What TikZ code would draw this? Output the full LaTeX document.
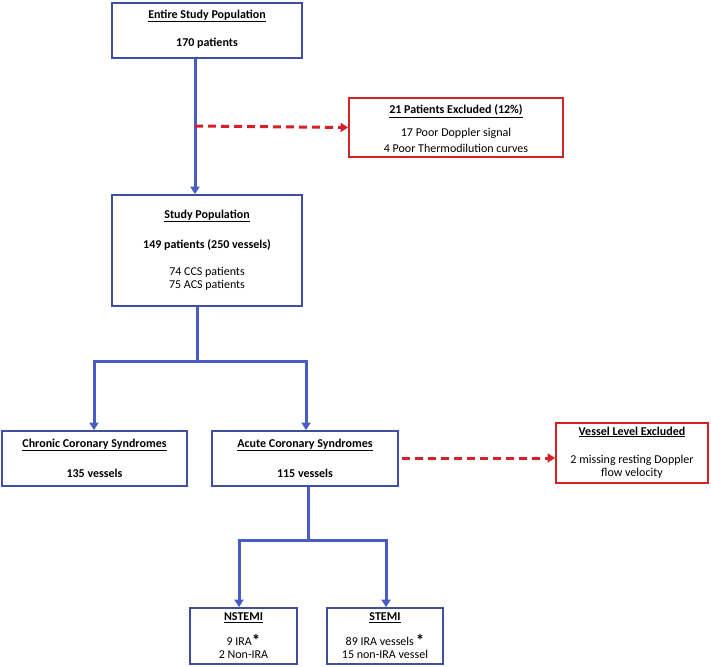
\documentclass[tikz,border=0pt]{standalone}
\usepackage{fontspec}
\setmainfont{Carlito}
\usetikzlibrary{arrows.meta,calc}
\definecolor{boxblue}{RGB}{64,80,160}
\definecolor{lineblue}{RGB}{72,92,196}
\definecolor{exred}{RGB}{212,32,40}
\tikzset{
  bluebox/.style={draw=boxblue, line width=1.8pt, fill=white, inner sep=0pt},
  redbox/.style={draw=exred, line width=1.8pt, fill=white, inner sep=0pt},
  txt/.style={font=\fontsize{12}{13}\selectfont, inner sep=0pt, align=center},
  ttl/.style={txt, font=\fontsize{12}{13}\selectfont\bfseries},
  blueline/.style={draw=lineblue, line width=3pt},
  bluearrow/.style={blueline, -{Triangle[length=7.5pt,width=9pt]}},
  redarrow/.style={draw=exred, line width=3pt, dash pattern=on 8pt off 5pt, -{Triangle[length=7.5pt,width=9pt]}}
}
\newcommand{\myast}{\raisebox{-1pt}{\bfseries\fontsize{17}{17}\selectfont *}}
\begin{document}
\begin{tikzpicture}[x=1pt,y=-1pt]
\useasboundingbox (0,0) rectangle (711,666);
% boxes
\node[bluebox, minimum width=190pt, minimum height=55pt] (esp) at (207,30.5) {};
\node[redbox, minimum width=214pt, minimum height=59pt] (excl) at (456,127.5) {};
\node[bluebox, minimum width=190pt, minimum height=111pt] (sp) at (207,250.5) {};
\node[bluebox, minimum width=185pt, minimum height=55pt] (ccs) at (94.5,458.5) {};
\node[bluebox, minimum width=186pt, minimum height=55pt] (acs) at (305,458.5) {};
\node[redbox, minimum width=152pt, minimum height=60pt] (vle) at (632,453) {};
\node[bluebox, minimum width=107pt, minimum height=56pt] (nst) at (243.5,636) {};
\node[bluebox, minimum width=116pt, minimum height=56pt] (st) at (385,636) {};
% texts
\node[ttl] (t1) at (207,16) {\underline{Entire Study Population}};
\node[ttl] (t2) at (207,43) {170 patients};
\node[ttl] (t3) at (456,111) {\underline{21 Patients Excluded (12\%)}};
\node[txt] (t4) at (456,133) {17 Poor Doppler signal};
\node[txt] (t5) at (456,148) {4 Poor Thermodilution curves};
\node[ttl] (t6) at (207,216) {\underline{Study Population}};
\node[ttl] (t7) at (207,245) {149 patients (250 vessels)};
\node[txt] (t8) at (207,278.5) {74 CCS patients\\75 ACS patients};
\node[ttl] (t9) at (94.5,445) {\underline{Chronic Coronary Syndromes}};
\node[ttl] (t10) at (94.5,473) {135 vessels};
\node[ttl] (t11) at (305,445) {\underline{Acute Coronary Syndromes}};
\node[ttl] (t12) at (305,473) {115 vessels};
\node[ttl] (t13) at (632,432) {\underline{Vessel Level Excluded}};
\node[txt] (t14) at (632,466.5) {2 missing resting Doppler\\flow velocity};
\node[ttl] (t15) at (243.5,618) {\underline{NSTEMI}};
\node[txt, anchor=base] (t16) at (243.5,645.5) {9 IRA\myast};
\node[txt, anchor=base] (t16b) at (243.5,658.5) {2 Non-IRA};
\node[ttl] (t17) at (385,618) {\underline{STEMI}};
\node[txt, anchor=base] (t18) at (385,645.5) {89 IRA vessels\,\myast};
\node[txt, anchor=base] (t18b) at (385,658.5) {15 non-IRA vessel};
% junction coordinates
\coordinate (a1) at (195,126);
\coordinate (j1) at (197,361);
\coordinate (j1l) at (94,361);
\coordinate (j1r) at (306,361);
\coordinate (j2) at (308,540);
\coordinate (j2l) at (239,540);
\coordinate (j2r) at (386,540);
\coordinate (r2) at (402,458);
% connectors
\draw[bluearrow] (esp.south -| a1) -- (sp.north -| a1);
\draw[redarrow] (a1) -- (excl.west);
\draw[blueline] (sp.south -| j1) -- (j1);
\draw[blueline, line cap=rect] (j1l) -- (j1r);
\draw[bluearrow] (j1l) -- (ccs.north -| j1l);
\draw[bluearrow] (j1r) -- (acs.north -| j1r);
\draw[blueline] (acs.south -| j2) -- (j2);
\draw[blueline, line cap=rect] (j2l) -- (j2r);
\draw[bluearrow] (j2l) -- (nst.north -| j2l);
\draw[bluearrow] (j2r) -- (st.north -| j2r);
\draw[redarrow] (r2) -- (vle.west |- r2);
\end{tikzpicture}
\end{document}
